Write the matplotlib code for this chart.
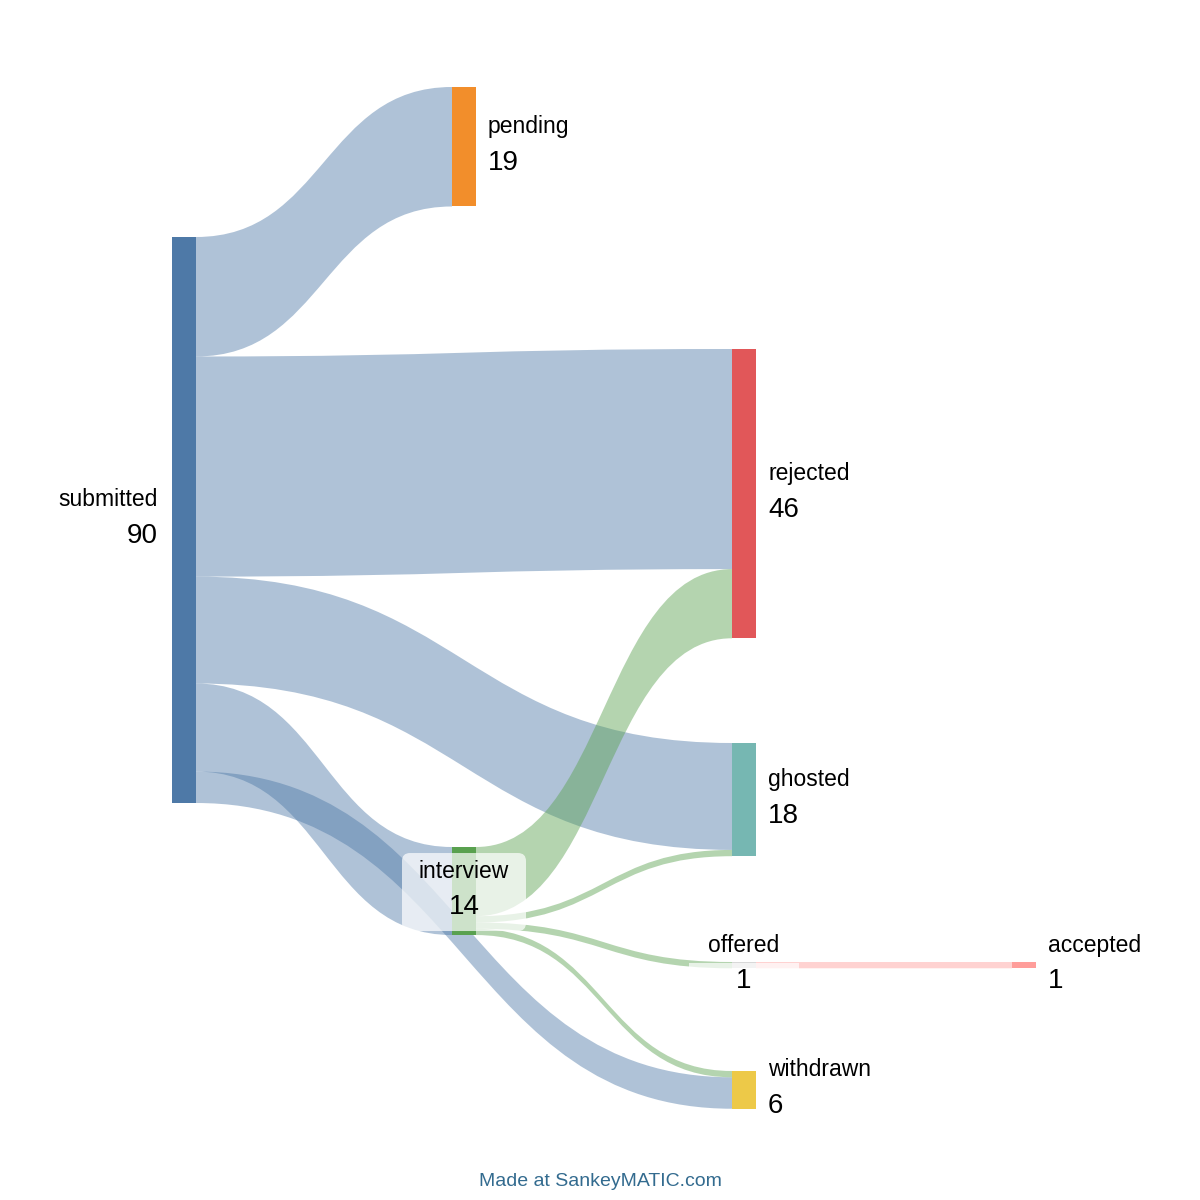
import numpy as np
import matplotlib.pyplot as plt
from matplotlib.path import Path
from matplotlib.patches import PathPatch, Rectangle, FancyBboxPatch

plt.rcParams['font.family'] = ['Liberation Sans', 'DejaVu Sans']

# nodes
names = ["submitted", "pending", "rejected", "ghosted", "interview", "offered", "accepted", "withdrawn"]
colors = ["#4e79a7", "#f28e2b", "#e15759", "#76b7b2", "#59a14f", "#d8d8d8", "#ff9d9a", "#edc948"]
# flows: source, target, amount
src = ["submitted", "submitted", "submitted", "submitted", "submitted", "interview", "interview", "interview", "interview", "offered"]
dst = ["pending", "rejected", "ghosted", "interview", "withdrawn", "rejected", "ghosted", "offered", "withdrawn", "accepted"]
amt = [19, 35, 17, 14, 5, 11, 1, 1, 1, 1]

# layout (pixels)
scale = 566 / 90.0
node_x = {"submitted": 172, "pending": 452, "interview": 452, "rejected": 732, "ghosted": 732,
          "offered": 732, "withdrawn": 732, "accepted": 1012}
node_top = {"submitted": 237, "pending": 87, "rejected": 349, "ghosted": 743, "interview": 847,
            "offered": 962, "withdrawn": 1071, "accepted": 962}
node_w = 24
in_order = [0, 1, 5, 2, 6, 3, 8, 4, 7, 9]

val = {}
for n in names:
    o = sum(a for s, a in zip(src, amt) if s == n)
    i = sum(a for d, a in zip(dst, amt) if d == n)
    val[n] = max(o, i)

fig = plt.figure(figsize=(12, 12), dpi=100)
ax = fig.add_axes([0, 0, 1, 1])
ax.set_xlim(0, 1200)
ax.set_ylim(1200, 0)
ax.axis("off")

out_off = {n: 0.0 for n in names}
in_off = {n: 0.0 for n in names}
src_y = [0] * len(amt)
dst_y = [0] * len(amt)
for k in range(len(amt)):
    s = src[k]
    src_y[k] = node_top[s] + out_off[s]
    out_off[s] += amt[k] * scale
for k in in_order:
    d = dst[k]
    dst_y[k] = node_top[d] + in_off[d]
    in_off[d] += amt[k] * scale

for k in range(len(amt)):
    h = amt[k] * scale
    x0 = node_x[src[k]] + node_w
    x1 = node_x[dst[k]]
    xm = (x0 + x1) / 2
    y0, y1 = src_y[k], dst_y[k]
    verts = [(x0, y0), (xm, y0), (xm, y1), (x1, y1),
             (x1, y1 + h), (xm, y1 + h), (xm, y0 + h), (x0, y0 + h), (x0, y0)]
    codes = [Path.MOVETO, Path.CURVE4, Path.CURVE4, Path.CURVE4,
             Path.LINETO, Path.CURVE4, Path.CURVE4, Path.CURVE4, Path.CLOSEPOLY]
    c = colors[names.index(src[k])]
    if src[k] == "offered":
        c = "#ff9d9a"
    ax.add_patch(PathPatch(Path(verts, codes), facecolor=c, edgecolor="none", alpha=0.45, zorder=1))

for n, c in zip(names, colors):
    ax.add_patch(Rectangle((node_x[n], node_top[n]), node_w, val[n] * scale, facecolor=c,
                           edgecolor="none", zorder=2))

fs_name, fs_num = 16.5, 20
for n in names:
    x = node_x[n]
    yc = node_top[n] + val[n] * scale / 2
    if n == "submitted":
        ax.text(x - 14, yc - 20, n, ha="right", va="center", fontsize=fs_name, zorder=4)
        ax.text(x - 14, yc + 16, str(val[n]), ha="right", va="center", fontsize=fs_num, zorder=4)
    elif n in ("interview", "offered"):
        cx = x + node_w / 2
        if n == "interview":
            ax.add_patch(FancyBboxPatch((cx - 62, yc - 38), 124, 78, boxstyle="round,pad=0,rounding_size=8",
                                        facecolor="white", alpha=0.7, edgecolor="none", zorder=3))
        else:
            ax.add_patch(Rectangle((cx - 55, yc - 2), 110, 8, facecolor="white", alpha=0.7,
                                   edgecolor="none", zorder=3))
        ax.text(cx, yc - 20, n, ha="center", va="center", fontsize=fs_name, zorder=4)
        ax.text(cx, yc + 16, str(val[n]), ha="center", va="center", fontsize=fs_num, zorder=4)
    else:
        ax.text(x + node_w + 12, yc - 20, n, ha="left", va="center", fontsize=fs_name, zorder=4)
        ax.text(x + node_w + 12, yc + 16, str(val[n]), ha="left", va="center", fontsize=fs_num, zorder=4)

ax.text(600, 1182, "Made at SankeyMATIC.com", ha="center", va="center", fontsize=14, color="#336b8f")

fig.savefig("out.png", dpi=100)
